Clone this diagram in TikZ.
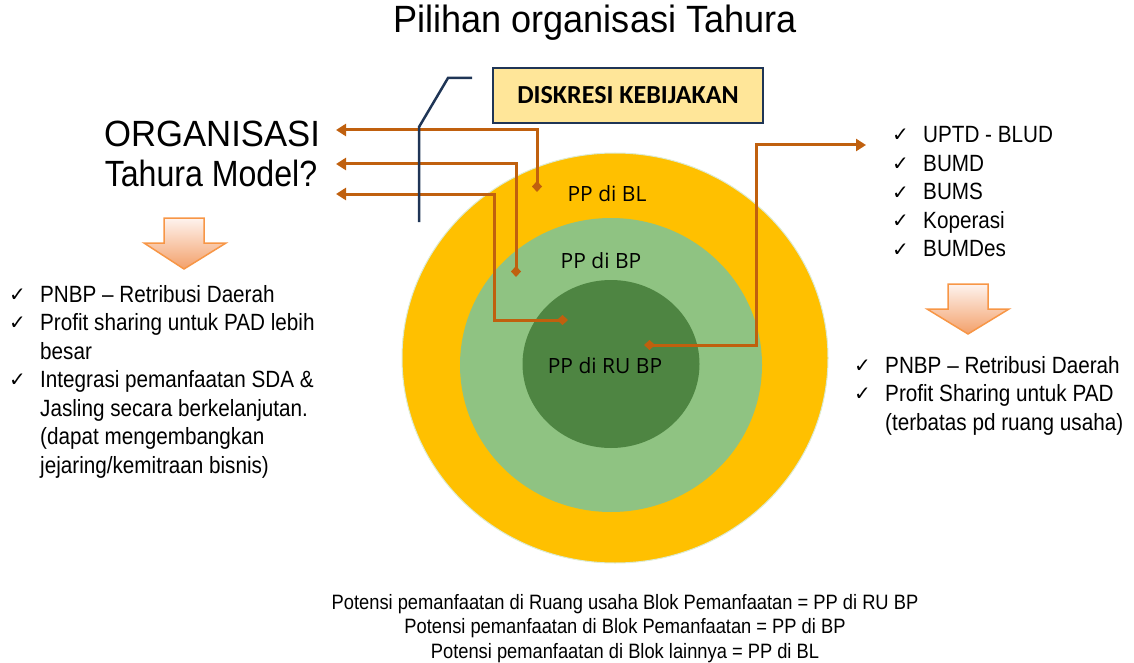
\documentclass[tikz,border=0pt]{standalone}
\usepackage{fontspec}
\setmainfont{Liberation Sans}
\newfontfamily\condA{Liberation Sans}[FakeStretch=0.88,Ligatures=TeX]
\newfontfamily\condB{Liberation Sans}[FakeStretch=0.95,Ligatures=TeX]
\newfontfamily\ppfont{Open Sans}
\newfontfamily\dkfont{Carlito}
\newfontfamily\symfont{DejaVu Sans}
\usetikzlibrary{arrows.meta,shapes.geometric}
\definecolor{cyellow}{HTML}{FFC000}
\definecolor{clgreen}{HTML}{8FC382}
\definecolor{cdgreen}{HTML}{4E8542}
\definecolor{cring}{HTML}{DCEBD3}
\definecolor{corange}{HTML}{C0600E}
\definecolor{cnavy}{HTML}{1F3556}
\definecolor{cboxfill}{HTML}{FFE699}
\definecolor{carrowline}{HTML}{F79646}
\definecolor{carrowtop}{HTML}{FEF3EE}
\definecolor{carrowbot}{HTML}{F3A06A}
\newcommand{\ck}{\makebox[31pt][l]{\raisebox{1pt}{\symfont\fontsize{20}{20}\selectfont ✓}}}
\begin{document}
\begin{tikzpicture}[x=1pt,y=-1pt,
  zone/.style={ellipse, inner sep=0pt, draw=cring, line width=1pt},
  pplabel/.style={font=\ppfont\fontsize{21}{24}\selectfont, anchor=base, inner sep=0pt},
  orarrow/.style={draw=corange, line width=3pt, line join=miter,
     {Diamond[length=11pt,width=10pt]}-{Triangle[length=10pt,width=12pt]}},
  callout/.style={draw=cnavy, line width=2.5pt},
  downarrow/.style={draw=carrowline, line width=1.5pt, top color=carrowtop, bottom color=carrowbot, line join=miter},
  listfont/.style={font=\condA\fontsize{23.5}{28.5}\selectfont, anchor=base west, inner sep=0pt},
  legendfont/.style={font=\condA\fontsize{20.8}{24.5}\selectfont, anchor=base, inner sep=0pt},
  dkbox/.style={draw=cnavy, line width=2.5pt, fill=cboxfill, minimum width=270pt, minimum height=55pt, inner sep=0pt}
]
\useasboundingbox (0,0) rectangle (1134,663);

% title
\node[font=\condB\fontsize{38}{42}\selectfont, anchor=base, inner sep=0pt] (title) at (595,33) {Pilihan organisasi Tahura};

% circles
\node[zone, fill=cyellow, minimum width=426pt, minimum height=410pt] (outer) at (615,358) {};
\node[zone, fill=clgreen, draw=none, minimum width=302pt, minimum height=294pt] (middle) at (611,365) {};
\node[zone, fill=cdgreen, draw=none, minimum width=177pt, minimum height=168pt] (inner) at (611,364) {};

\node[pplabel] (plBL) at (607,201) {PP di BL};
\node[pplabel] (plBP) at (601,268) {PP di BP};
\node[pplabel] (plRU) at (605,373) {PP di RU BP};

% box
\node[dkbox] (dk) at (628,95.5) {};
\node[font=\dkfont\bfseries\fontsize{26}{30}\selectfont, anchor=base, inner sep=0pt] (dktext) at (628,104) {DISKRESI KEBIJAKAN};

% left heading
\node[font=\condB\fontsize{36.5}{40}\selectfont, anchor=base, inner sep=0pt] (org) at (212,147) {ORGANISASI};
\node[font=\condA\fontsize{36.5}{40}\selectfont, anchor=base, inner sep=0pt] (model) at (211,186) {Tahura Model?};

% orange connectors
\coordinate (a1s) at (537,192);
\coordinate (a1e) at (336,130);
\coordinate (a2s) at (516,277);
\coordinate (a2e) at (336,164);
\coordinate (a3s) at (568,320);
\coordinate (a3b) at (494,320);
\coordinate (a3e) at (336,194);
\coordinate (a4s) at (644,345);
\coordinate (a4b) at (756,145);
\coordinate (a4e) at (866,145);
\draw[orarrow] (a1s) |- (a1e);
\draw[orarrow] (a2s) |- (a2e);
\draw[orarrow] (a3s) -- (a3b) |- (a3e);
\draw[orarrow] (a4s) -| (a4b) -- (a4e);

% callout line
\coordinate (c1) at (472,78);
\coordinate (c2) at (448,78);
\coordinate (c3) at (419,127);
\coordinate (c4) at (419,222);
\draw[callout] (c1) -- (c2) -- (c3) -- (c4);

% down arrows
\draw[downarrow] (164,218) -- (204,218) -- (204,243) -- (226,243) -- (184,269) -- (144,243) -- (164,243) -- cycle;
\draw[downarrow] (948,284) -- (988,284) -- (988,309) -- (1009,309) -- (968,334) -- (927,309) -- (948,309) -- cycle;

% left list
\node[listfont] (leftlist) at (9,302) {\begin{tabular}[t]{@{}l@{}}
\ck PNBP \textendash{} Retribusi Daerah\\
\ck Profit sharing untuk PAD lebih\\
\hspace*{31pt}besar\\
\ck Integrasi pemanfaatan SDA \&\\
\hspace*{31pt}Jasling secara berkelanjutan.\\
\hspace*{31pt}(dapat mengembangkan\\
\hspace*{31pt}jejaring/kemitraan bisnis)
\end{tabular}};

% right top list
\node[listfont] (rightlist) at (892,143) {\begin{tabular}[t]{@{}l@{}}
\ck UPTD - BLUD\\
\ck BUMD\\
\ck BUMS\\
\ck Koperasi\\
\ck BUMDes
\end{tabular}};

% right bottom list
\node[listfont] (rightlist2) at (854,373) {\begin{tabular}[t]{@{}l@{}}
\ck PNBP \textendash{} Retribusi Daerah\\
\ck Profit Sharing untuk PAD\\
\hspace*{31pt}(terbatas pd ruang usaha)
\end{tabular}};

% legend
\node[legendfont] (legend) at (625,609) {\begin{tabular}[t]{@{}c@{}}
Potensi pemanfaatan di Ruang usaha Blok Pemanfaatan = PP di RU BP\\
Potensi pemanfaatan di Blok Pemanfaatan = PP di BP\\
Potensi pemanfaatan di Blok lainnya = PP di BL
\end{tabular}};
\end{tikzpicture}
\end{document}
